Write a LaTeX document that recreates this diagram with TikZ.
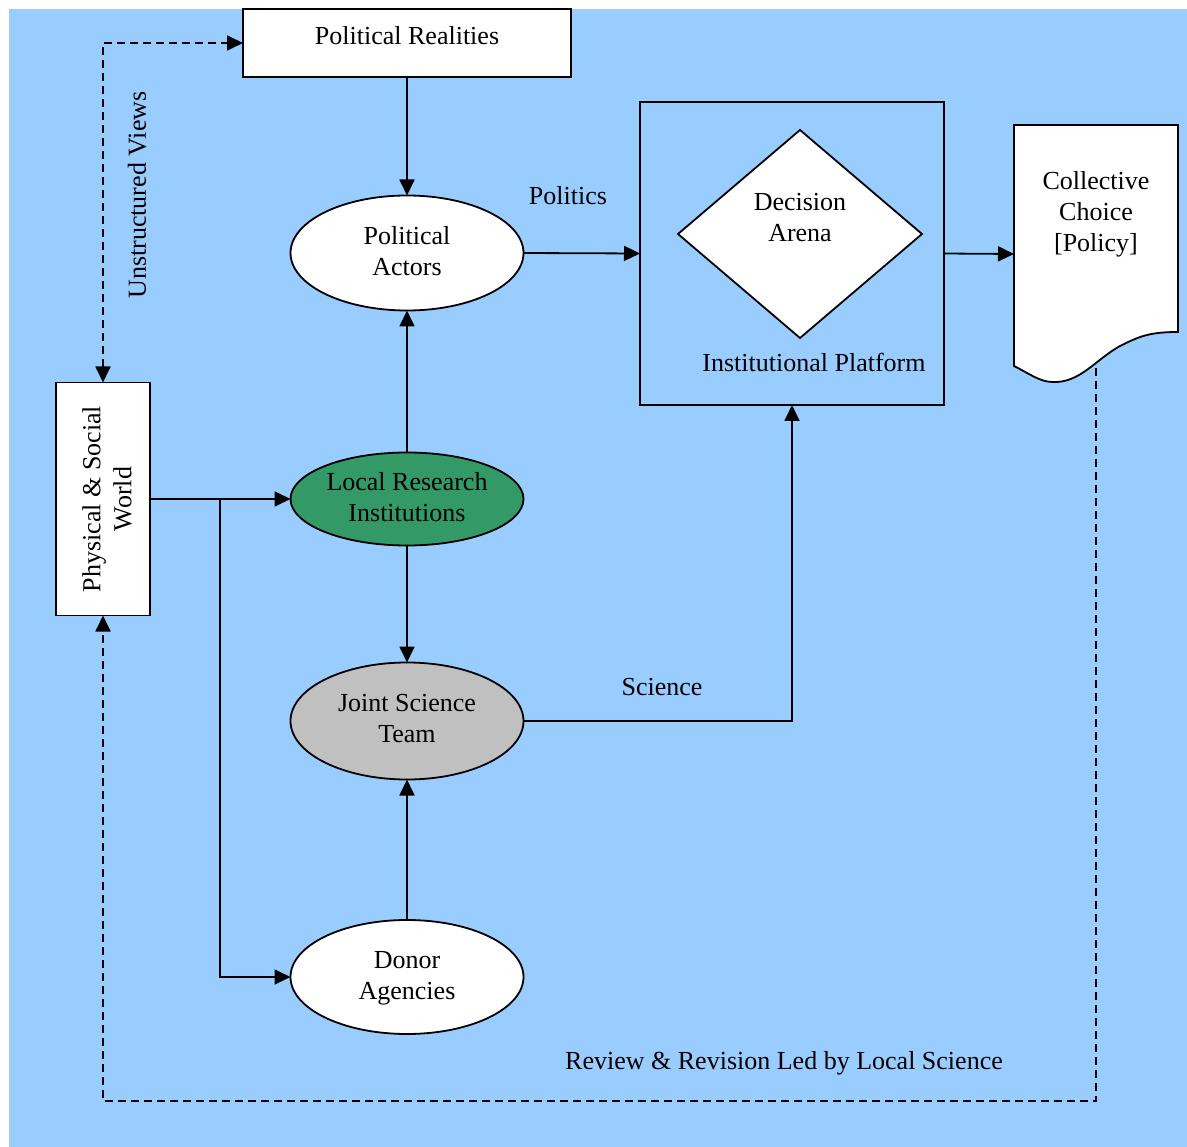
\documentclass[tikz,border=0pt]{standalone}
\usepackage{fontspec}
\setmainfont{Liberation Serif}
\usetikzlibrary{shapes.geometric,arrows.meta,positioning}
\definecolor{skyblue}{HTML}{99CCFF}
\definecolor{lrigreen}{HTML}{339966}
\definecolor{teamgray}{HTML}{C0C0C0}
\begin{document}
\begin{tikzpicture}[x=1pt,y=-1pt,
  font=\fontsize{26}{31}\selectfont,
  every node/.style={inner sep=0pt,outer sep=0pt},
  boxnode/.style={draw,line width=1.8pt,fill=white,align=center},
  oval/.style={ellipse,draw,line width=1.8pt,fill=white,align=center,
    minimum width=233pt,minimum height=115pt},
  tip/.tip={Triangle[length=16pt,width=15pt]},
  link/.style={line width=1.8pt,-tip},
  dlink/.style={line width=1.8pt,dash pattern=on 8pt off 5pt,-tip},
  lbl/.style={align=center}]
% page and background
\useasboundingbox (0,0) rectangle (1187,1147);
\fill[skyblue] (9,9) rectangle (1187,1147);

% nodes
\node[boxnode,minimum width=328pt,minimum height=68pt] (pr) at (407,43) {};
\node at (407,36) {Political Realities};
\node[oval] (pa) at (407,253) {};
\node[lbl] at (407,251) {Political\\Actors};
\node[oval,fill=lrigreen,minimum height=93pt] (lri) at (407,499) {};
\node[lbl] at (407,497) {Local Research\\Institutions};
\node[oval,fill=teamgray,minimum height=117pt] (jst) at (407,721) {};
\node[lbl] at (407,719) {Joint Science\\Team};
\node[oval,minimum height=114pt] (da) at (407,977) {};
\node[lbl] at (407,978) {Donor\\Agencies};
\node[boxnode,minimum width=94pt,minimum height=233pt] (psw) at (103,499) {};
\node[lbl,rotate=90] at (107,499) {Physical \& Social\\World};

% institutional platform with decision arena
\node[draw,line width=1.8pt,fill=skyblue,minimum width=304pt,minimum height=303pt] (ip) at (792,253.5) {};
\node[diamond,draw,line width=1.8pt,fill=white,minimum width=244pt,minimum height=208pt,aspect=1.17] (dec) at (800,234) {};
\node[lbl] at (800,218) {Decision\\Arena};
\node[lbl] at (814,362) {Institutional Platform};

% collective choice document
\draw[line width=1.8pt,fill=white] (1014,125) -- (1178,125) -- (1178,332)
  .. controls (1150,332) and (1140,336) .. (1120,346)
  .. controls (1095,360) and (1080,383) .. (1053,382)
  .. controls (1040,382) and (1030,374) .. (1014,366) -- cycle;
\coordinate (cc) at (1014,254);
\coordinate (ccb) at (1096,368);
\node[lbl] at (1096,214) {Collective\\Choice\\{[Policy]}};

% solid connectors
\draw[link] (pr.south) -- (pa.north);
\draw[link] (lri.north) -- (pa.south);
\draw[link] (lri.south) -- (jst.north);
\draw[link] (da.north) -- (jst.south);
\draw[link] (pa.east) -- (ip.west);
\draw[link] (ip.east) -- (cc);
\draw[link] (jst.east) -| (ip.south);
\draw[link] (psw.east) -- (lri.west);
\coordinate (split) at (220,499);
\draw[link] (split) |- (da.west);

% dashed feedback loops
\draw[dlink,tip-tip] (psw.north) |- (pr.west);
\draw[dlink] (ccb) |- (103,1101) -- (psw.south);

% labels
\node at (568,196) {Politics};
\node at (662,687) {Science};
\node[rotate=90] at (137,195) {Unstructured Views};
\node at (784,1063) {Review \& Revision Led by Local Science};
\end{tikzpicture}
\end{document}
